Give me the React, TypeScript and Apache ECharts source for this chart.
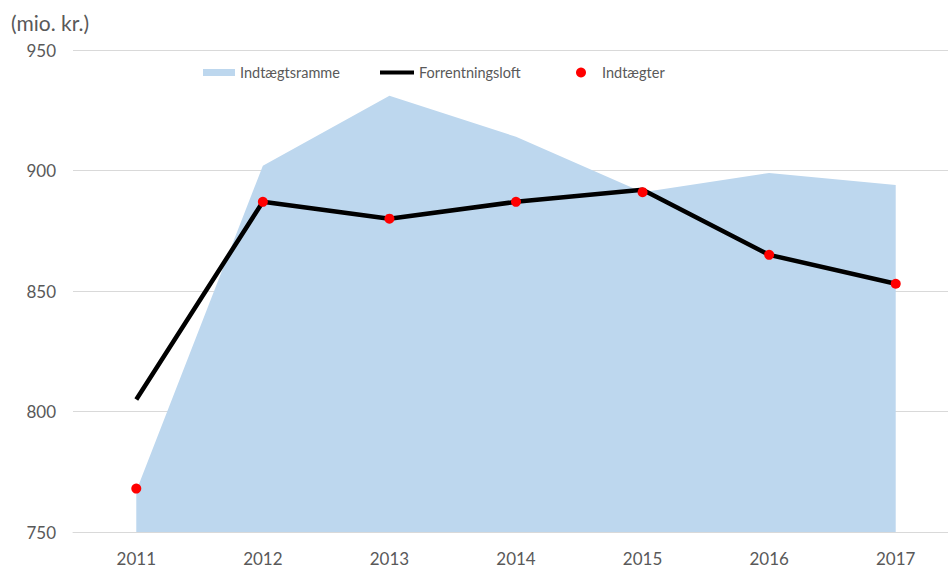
import React, { useEffect, useRef } from "react";
import * as echarts from "echarts";

const years = ["2011", "2012", "2013", "2014", "2015", "2016", "2017"];
const indtaegtsramme = [767, 902, 931, 914, 891, 899, 894];
const forrentningsloft = [805, 887, 880, 887, 892, 865, 853];
const indtaegter = [768, 887, 880, 887, 891, 865, 853];
const yTicks = { min: 750, max: 950, interval: 50 };

const FONT = "Lato, 'Noto Sans', sans-serif";
const TXT = "#595959";

export default function App() {
  const ref = useRef<HTMLDivElement>(null);
  useEffect(() => {
    if (!ref.current) return;
    const chart = echarts.init(ref.current, undefined, { renderer: "svg" });
    const legendBase = {
      top: 65,
      padding: 0,
      textStyle: { color: TXT, fontSize: 14.5, fontFamily: FONT },
      selectedMode: false,
    };
    chart.setOption({
      animation: false,
      textStyle: { fontFamily: FONT },
      grid: {
        left: 73,
        width: 886,
        top: 50,
        height: 482,
        containLabel: false,
        outerBoundsMode: "none",
      },
      graphic: [
        {
          type: "text",
          left: 11,
          top: 12,
          style: { text: "(mio. kr.)", fill: TXT, fontSize: 21, fontFamily: FONT },
        },
      ],
      legend: [
        {
          ...legendBase,
          left: 203,
          data: [{ name: "Indtægtsramme", icon: "rect" }],
          itemWidth: 32,
          itemHeight: 7,
        },
        {
          ...legendBase,
          left: 380,
          data: [{ name: "Forrentningsloft", icon: "rect" }],
          itemWidth: 34,
          itemHeight: 4,
        },
        {
          ...legendBase,
          left: 576,
          data: [{ name: "Indtægter", icon: "circle" }],
          itemWidth: 10,
          itemHeight: 10,
          textStyle: { ...legendBase.textStyle, padding: [0, 0, 0, 11] },
        },
      ],
      xAxis: {
        type: "category",
        data: years,
        boundaryGap: true,
        axisLine: { show: true, lineStyle: { color: "#d9d9d9", width: 1 } },
        axisTick: { show: false },
        axisLabel: { color: TXT, fontSize: 17, fontFamily: FONT, margin: 18 },
      },
      yAxis: {
        type: "value",
        min: yTicks.min,
        max: yTicks.max,
        interval: yTicks.interval,
        axisLine: { show: false },
        axisTick: { show: false },
        splitLine: { lineStyle: { color: "#d9d9d9", width: 1 } },
        axisLabel: { color: TXT, fontSize: 17, fontFamily: FONT, margin: 17 },
      },
      series: [
        {
          name: "Indtægtsramme",
          type: "line",
          data: indtaegtsramme,
          symbol: "none",
          lineStyle: { width: 0, color: "#BDD7EE" },
          itemStyle: { color: "#BDD7EE" },
          areaStyle: { color: "#BDD7EE", opacity: 1, origin: "start" },
          z: 1,
        },
        {
          name: "Forrentningsloft",
          type: "line",
          data: forrentningsloft,
          symbol: "none",
          lineStyle: { width: 4.5, color: "#000000" },
          itemStyle: { color: "#000000" },
          z: 2,
        },
        {
          name: "Indtægter",
          type: "scatter",
          data: indtaegter,
          symbol: "circle",
          symbolSize: 10,
          itemStyle: { color: "#FF0000", opacity: 1 },
          z: 3,
        },
      ],
    });
    return () => chart.dispose();
  }, []);
  return <div ref={ref} style={{ width: 948, height: 568, position: "absolute", left: 0, top: 0 }} />;
}
